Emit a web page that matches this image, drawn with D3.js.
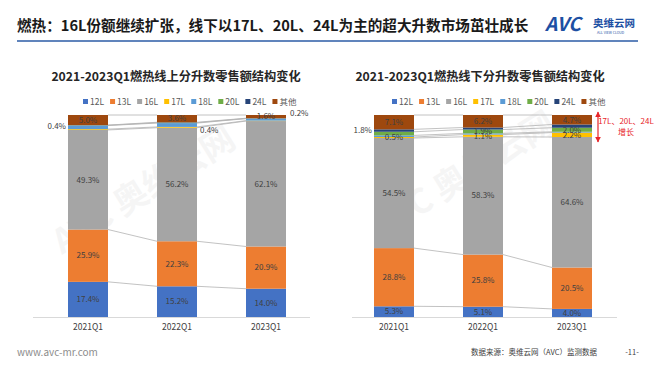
<!DOCTYPE html>
<html>
<head>
<meta charset="utf-8">
<script src="https://cdn.jsdelivr.net/npm/d3@7"></script>
<style>
  body { margin: 0; background: #fff; }
  text { font-family: "Noto Sans CJK SC", "Noto Sans", sans-serif; }
</style>
</head>
<body>
<script>
const width = 660;
const height = 372;

// data
const quarters = ['2021Q1', '2022Q1', '2023Q1'];
const seriesNames = ['12L', '13L', '16L', '17L', '18L', '20L', '24L', '其他'];
const seriesColors = ['#4472C4', '#ED7D31', '#A5A5A5', '#FFC000', '#5B9BD5', '#70AD47', '#264478', '#9E480E'];

// shares (%) per series, one value per quarter
const onlineShares = [
	[17.4, 15.2, 14.0],
	[25.9, 22.3, 20.9],
	[49.3, 56.2, 62.1],
	[0.4, 0.4, 0.2],
	[1.8, 1.9, 1.0],
	[0.1, 0.2, 0.1],
	[0.1, 0.2, 0.1],
	[5.0, 3.6, 1.6],
];
const offlineShares = [
	[5.3, 5.1, 4.0],
	[28.8, 25.8, 20.5],
	[54.5, 58.3, 64.6],
	[0.5, 1.1, 2.2],
	[0.8, 0.6, 0.4],
	[1.8, 1.9, 2.0],
	[1.2, 1.0, 1.6],
	[7.1, 6.2, 4.7],
];

// which labels are shown: [series, quarter, placement]
const onlineLabels = [
	[0, 0, 'in'], [0, 1, 'in'], [0, 2, 'in'],
	[1, 0, 'in'], [1, 1, 'in'], [1, 2, 'in'],
	[2, 0, 'in'], [2, 1, 'in'], [2, 2, 'in'],
	[7, 0, 'in'], [7, 1, 'in'], [7, 2, 'in'],
	[3, 0, 'left'], [3, 1, 'right-low'], [3, 2, 'right-high'],
];
const offlineLabels = [
	[0, 0, 'in'], [0, 1, 'in'], [0, 2, 'in'],
	[1, 0, 'in'], [1, 1, 'in'], [1, 2, 'in'],
	[2, 0, 'in'], [2, 1, 'in'], [2, 2, 'in'],
	[7, 0, 'in'], [7, 1, 'in'], [7, 2, 'in'],
	[3, 0, 'in'], [3, 1, 'in'], [3, 2, 'in'],
	[5, 0, 'left'], [5, 1, 'in'], [5, 2, 'in'],
];

const svg = d3.select('body')
	.append('svg')
	.attr('width', width)
	.attr('height', height);

// watermarks
[[150, 200], [470, 185]].forEach(([wx, wy]) => {
	svg.append('text')
		.attr('transform', `translate(${wx},${wy}) rotate(-32)`)
		.attr('text-anchor', 'middle')
		.attr('font-size', 34).attr('font-weight', 'bold')
		.attr('fill', '#000').attr('opacity', 0.035)
		.text('AVC 奥维云网');
});

// page header
svg.append('text')
	.attr('x', 17).attr('y', 31)
	.attr('font-size', 14.6).attr('font-weight', 'bold').attr('fill', '#1a1a1a')
	.text('燃热：16L份额继续扩张，线下以17L、20L、24L为主的超大升数市场茁壮成长');

svg.append('line')
	.attr('x1', 17).attr('x2', 638).attr('y1', 41).attr('y2', 41)
	.attr('stroke', '#2B5BA6').attr('stroke-width', 1.5);

const logo = svg.append('g').attr('transform', 'translate(545,31)');
logo.append('text').attr('x', 0).attr('y', 0)
	.attr('font-size', 19).attr('font-weight', 'bold').attr('font-style', 'italic')
	.attr('fill', '#1D4FA3').attr('font-family', 'Liberation Sans')
	.text('AVC');
logo.append('text').attr('x', 48).attr('y', -4)
	.attr('font-size', 10.5).attr('font-weight', 'bold').attr('fill', '#1D4FA3')
	.text('奥维云网');
logo.append('text').attr('x', 52).attr('y', 3)
	.attr('font-size', 3.5).attr('fill', '#1D4FA3')
	.text('ALL VIEW CLOUD');

// footer
svg.append('text')
	.attr('x', 17).attr('y', 356)
	.attr('font-size', 10).attr('fill', '#8c8c8c')
	.attr('font-family', 'Liberation Sans')
	.text('www.avc-mr.com');
svg.append('text')
	.attr('x', 597).attr('y', 355)
	.attr('text-anchor', 'end')
	.attr('font-size', 7.5).attr('fill', '#404040')
	.text('数据来源：奥维云网（AVC）监测数据');
svg.append('text')
	.attr('x', 632).attr('y', 355)
	.attr('text-anchor', 'middle')
	.attr('font-size', 7.5).attr('fill', '#404040')
	.text('-11-');

drawChart({
	title: '2021-2023Q1燃热线上分升数零售额结构变化',
	titleX: 176,
	legendX: 83,
	axisRange: [33, 310],
	xRange: [88, 266],
	shares: onlineShares,
	labels: onlineLabels,
});

drawChart({
	title: '2021-2023Q1燃热线下分升数零售额结构变化',
	titleX: 480,
	legendX: 392,
	axisRange: [352, 617],
	xRange: [394, 572],
	shares: offlineShares,
	labels: offlineLabels,
});

// annotation on the offline chart
const red = '#E8262A';
const defs = svg.append('defs');
defs.append('marker')
	.attr('id', 'arrow')
	.attr('viewBox', '0 0 10 10')
	.attr('refX', 9).attr('refY', 5)
	.attr('markerWidth', 5).attr('markerHeight', 5)
	.attr('orient', 'auto-start-reverse')
	.append('path')
	.attr('d', 'M 0 0 L 10 5 L 0 10 z')
	.attr('fill', red);
svg.append('line')
	.attr('x1', 598).attr('x2', 598).attr('y1', 112).attr('y2', 142)
	.attr('stroke', red).attr('stroke-width', 1.2)
	.attr('marker-start', 'url(#arrow)')
	.attr('marker-end', 'url(#arrow)');
svg.append('text')
	.attr('x', 626).attr('y', 124)
	.attr('text-anchor', 'middle')
	.attr('font-size', 8).attr('fill', red)
	.text('17L、20L、24L');
svg.append('text')
	.attr('x', 626).attr('y', 135)
	.attr('text-anchor', 'middle')
	.attr('font-size', 8).attr('fill', red)
	.text('增长');

function drawChart(cfg) {
	const g = svg.append('g');
	const barWidth = 40;
	const x = d3.scalePoint().domain(quarters).range(cfg.xRange);
	const y = d3.scaleLinear().domain([0, 100]).range([317, 115]);

	// title
	g.append('text')
		.attr('x', cfg.titleX).attr('y', 81)
		.attr('text-anchor', 'middle')
		.attr('font-size', 12.2).attr('font-weight', 'bold').attr('fill', '#262626')
		.text(cfg.title);

	// legend
	let lx = cfg.legendX;
	seriesNames.forEach((name, i) => {
		g.append('rect')
			.attr('x', lx).attr('y', 99)
			.attr('width', 5).attr('height', 5)
			.attr('fill', seriesColors[i]);
		const t = g.append('text')
			.attr('x', lx + 7).attr('y', 104.5)
			.attr('font-size', 8.5).attr('fill', '#595959')
			.text(name);
		lx += t.node().getComputedTextLength() + 13;
	});

	// stack
	const rows = quarters.map((q, qi) => {
		const row = { quarter: q };
		seriesNames.forEach((s, si) => { row[s] = cfg.shares[si][qi]; });
		return row;
	});
	const stacked = d3.stack().keys(seriesNames)(rows);

	// series lines between bars
	const lines = g.append('g');
	stacked.forEach(layer => {
		for (let i = 0; i < quarters.length - 1; i++) {
			lines.append('line')
				.attr('x1', x(quarters[i]) + barWidth / 2)
				.attr('y1', y(layer[i][1]))
				.attr('x2', x(quarters[i + 1]) - barWidth / 2)
				.attr('y2', y(layer[i + 1][1]))
				.attr('stroke', '#b3b3b3')
				.attr('stroke-width', 0.8);
		}
	});

	// bars
	g.append('g')
		.selectAll('g')
		.data(stacked)
		.enter()
		.append('g')
		.attr('fill', (d, i) => seriesColors[i])
		.selectAll('rect')
		.data(d => d)
		.enter()
		.append('rect')
		.attr('x', d => x(d.data.quarter) - barWidth / 2)
		.attr('y', d => y(d[1]))
		.attr('width', barWidth)
		.attr('height', d => y(d[0]) - y(d[1]));

	// axis baseline
	g.append('line')
		.attr('x1', cfg.axisRange[0]).attr('x2', cfg.axisRange[1])
		.attr('y1', 317.5).attr('y2', 317.5)
		.attr('stroke', '#d9d9d9').attr('stroke-width', 1);

	// category labels
	g.append('g')
		.selectAll('text')
		.data(quarters)
		.enter()
		.append('text')
		.attr('x', d => x(d))
		.attr('y', 330)
		.attr('text-anchor', 'middle')
		.attr('font-size', 8.5).attr('fill', '#404040')
		.text(d => d);

	// data labels
	cfg.labels.forEach(([si, qi, pos]) => {
		const seg = stacked[si][qi];
		const v = cfg.shares[si][qi];
		const cx = x(quarters[qi]);
		const cy = y((seg[0] + seg[1]) / 2);
		let tx = cx, ty = cy, anchor = 'middle';
		if (pos === 'left') { tx = cx - barWidth / 2 - 2; ty = cy - 3; anchor = 'end'; }
		if (pos === 'right-low') { tx = cx + barWidth / 2 + 3; ty = cy + 3; anchor = 'start'; }
		if (pos === 'right-high') { tx = cx + barWidth / 2 + 4; ty = cy - 8; anchor = 'start'; }
		g.append('text')
			.attr('x', tx).attr('y', ty)
			.attr('dy', '0.35em')
			.attr('text-anchor', anchor)
			.attr('font-size', 8).attr('fill', '#404040')
			.text(v.toFixed(1) + '%');
	});
}
</script>
</body>
</html>
